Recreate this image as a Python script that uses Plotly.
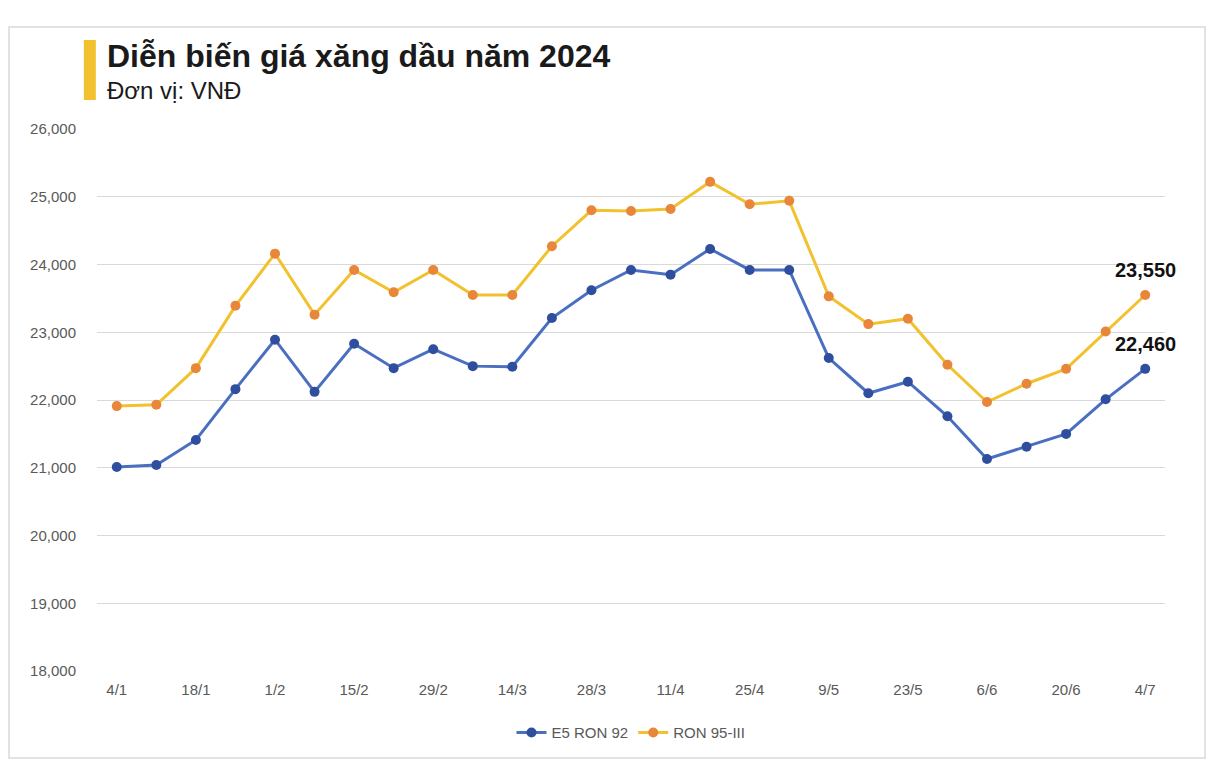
import plotly.graph_objects as go

dates = ["4/1", "11/1", "18/1", "25/1", "1/2", "8/2", "15/2", "22/2", "29/2",
         "7/3", "14/3", "21/3", "28/3", "4/4", "11/4", "18/4", "25/4", "2/5",
         "9/5", "16/5", "23/5", "30/5", "6/6", "13/6", "20/6", "27/6", "4/7"]
tick_labels = dates[::2]

e5_ron92 = [21010, 21040, 21410, 22160, 22890, 22120, 22830, 22470, 22750,
            22500, 22490, 23210, 23620, 23920, 23850, 24230, 23920, 23920,
            22620, 22100, 22270, 21760, 21130, 21310, 21500, 22010, 22460]
ron95_iii = [21910, 21930, 22470, 23390, 24160, 23260, 23920, 23590, 23920,
             23550, 23550, 24270, 24800, 24790, 24820, 25220, 24890, 24940,
             23530, 23120, 23200, 22520, 21970, 22240, 22460, 23010, 23550]

tick_font = dict(family="Liberation Sans Narrow, Liberation Sans, Arial", size=15, color="#595959")

fig = go.Figure()
fig.add_trace(go.Scatter(
    x=dates, y=e5_ron92, name="E5 RON 92", mode="lines+markers",
    line=dict(color="#4A6FC0", width=3),
    marker=dict(color="#2F4F9E", size=10),
))
fig.add_trace(go.Scatter(
    x=dates, y=ron95_iii, name="RON 95-III", mode="lines+markers",
    line=dict(color="#F2C12E", width=3),
    marker=dict(color="#E8863A", size=10),
))

# labels on the last points
for series in (ron95_iii, e5_ron92):
    fig.add_annotation(
        x=dates[-1], y=series[-1], text=f"<b>{series[-1]:,}</b>", showarrow=False,
        yshift=25, font=dict(family="Liberation Sans, Arial", size=20, color="#111111"),
    )

# title block
fig.add_shape(type="rect", xref="paper", yref="paper",
              x0=-0.0123, x1=-0.0011, y0=1.0535, y1=1.1642,
              fillcolor="#F2C12E", line_width=0)
fig.add_annotation(xref="paper", yref="paper", x=0.0075, y=1.172, xanchor="left", yanchor="top",
                   text="<b>Diễn biến giá xăng dầu năm 2024</b>", showarrow=False,
                   font=dict(family="Liberation Sans, Arial", size=32, color="#1a1a1a"))
fig.add_annotation(xref="paper", yref="paper", x=0.0075, y=1.1, xanchor="left", yanchor="top",
                   text="Đơn vị: VNĐ", showarrow=False,
                   font=dict(family="Liberation Sans, Arial", size=24, color="#1a1a1a"))

# outer frame
fig.add_shape(type="rect", xref="paper", yref="paper",
              x0=-0.0824, x1=1.0375, y0=-0.1605, y1=1.188,
              line=dict(color="#D9D9D9", width=1.5), fillcolor="rgba(0,0,0,0)")

fig.update_layout(
    width=1218, height=770,
    margin=dict(l=89, r=61, t=121, b=107, autoexpand=False),
    plot_bgcolor="white", paper_bgcolor="white",
    showlegend=True,
    legend=dict(orientation="h", x=0.5, xanchor="center", y=-0.114, yanchor="middle",
                font=dict(family="Liberation Sans, Arial", size=15, color="#595959")),
    xaxis=dict(type="category", tickmode="array", tickvals=tick_labels, ticktext=tick_labels,
               range=[-0.5, len(dates) - 0.5],
               automargin=False, showgrid=False, showline=False, ticks="", tickfont=tick_font,
               ticklabelstandoff=8),
    yaxis=dict(range=[18000, 26000], dtick=1000, tickformat=",", showgrid=True,
               gridcolor="#D9D9D9", gridwidth=1, zeroline=False, showline=False,
               automargin=False, ticks="", tickfont=tick_font, ticklabelstandoff=20),
)

fig.write_html("out.html")
